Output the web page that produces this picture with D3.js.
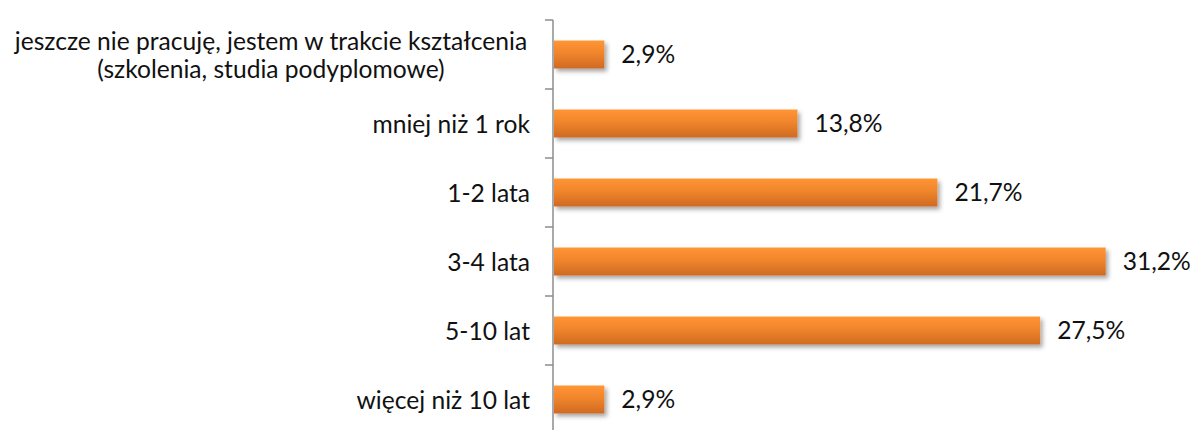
<!DOCTYPE html>
<html><head><meta charset="utf-8">
<script src="https://d3js.org/d3.v7.min.js"></script>
<style>body{margin:0;background:#fff}svg{display:block}</style>
</head><body>
<script>
const categories = [
  ["jeszcze nie pracuję, jestem w trakcie kształcenia", "(szkolenia, studia podyplomowe)"],
  ["mniej niż 1 rok"],
  ["1-2 lata"],
  ["3-4 lata"],
  ["5-10 lat"],
  ["więcej niż 10 lat"]
];
const values = [2.9, 13.8, 21.7, 31.2, 27.5, 2.9];
const valueLabels = ["2,9%", "13,8%", "21,7%", "31,2%", "27,5%", "2,9%"];

const W = 1192, H = 430;
const svg = d3.select("body").append("svg").attr("width", W).attr("height", H);
const defs = svg.append("defs");
const grad = defs.append("linearGradient").attr("id","g").attr("x1",0).attr("y1",0).attr("x2",0).attr("y2",1);
grad.append("stop").attr("offset","0%").attr("stop-color","#FF9533");
grad.append("stop").attr("offset","45%").attr("stop-color","#F0852C");
grad.append("stop").attr("offset","100%").attr("stop-color","#CF6A22");
const f = defs.append("filter").attr("id","sh").attr("x","-10%").attr("y","-30%").attr("width","130%").attr("height","190%");
f.append("feDropShadow").attr("dx",2.5).attr("dy",3).attr("stdDeviation",2.2).attr("flood-color","#000").attr("flood-opacity",0.35);

const x0 = 553;
const x = d3.scaleLinear().domain([0, 31.2]).range([x0, 1105.7]);
const y = d3.scaleBand().domain(d3.range(categories.length)).range([20, 434]).paddingInner(0.595).paddingOuter(0.2975);

const font = "Lato, 'Open Sans', sans-serif";
const fs = 24.6;

// bars
svg.append("g").selectAll("rect").data(values).join("rect")
  .attr("x", x0 + 1)
  .attr("y", (d,i) => y(i))
  .attr("width", d => x(d) - x0 - 1)
  .attr("height", y.bandwidth())
  .attr("fill", "url(#g)")
  .attr("filter", "url(#sh)");

// axis
const axisG = svg.append("g").attr("stroke", "#8c8c8c").attr("stroke-width", 1.5);
axisG.append("line").attr("x1", x0).attr("x2", x0).attr("y1", 20).attr("y2", H);
axisG.selectAll("line.t").data(d3.range(categories.length + 1)).join("line").attr("class","t")
  .attr("x1", x0 - 8).attr("x2", x0)
  .attr("y1", i => 20 + i * (414/6)).attr("y2", i => 20 + i * (414/6));

// category labels
const lab = svg.append("g").attr("font-family", font).attr("font-size", fs).attr("fill", "#111");
categories.forEach((lines, i) => {
  const cy = y(i) + y.bandwidth()/2;
  const lh = 28;
  lines.forEach((t, j) => {
    lab.append("text")
      .attr("x", lines.length > 1 ? 271 : 530)
      .attr("text-anchor", lines.length > 1 ? "middle" : "end")
      .attr("y", cy + 0.5 + (j - (lines.length-1)/2) * lh)
      .attr("dy", "0.35em")
      .text(t);
  });
});

// value labels
svg.append("g").attr("font-family", font).attr("font-size", fs).attr("fill", "#111")
  .selectAll("text").data(values).join("text")
  .attr("x", d => x(d) + 17)
  .attr("y", (d,i) => y(i) + y.bandwidth()/2)
  .attr("dy", "0.35em")
  .text((d,i) => valueLabels[i]);
</script>
</body></html>
